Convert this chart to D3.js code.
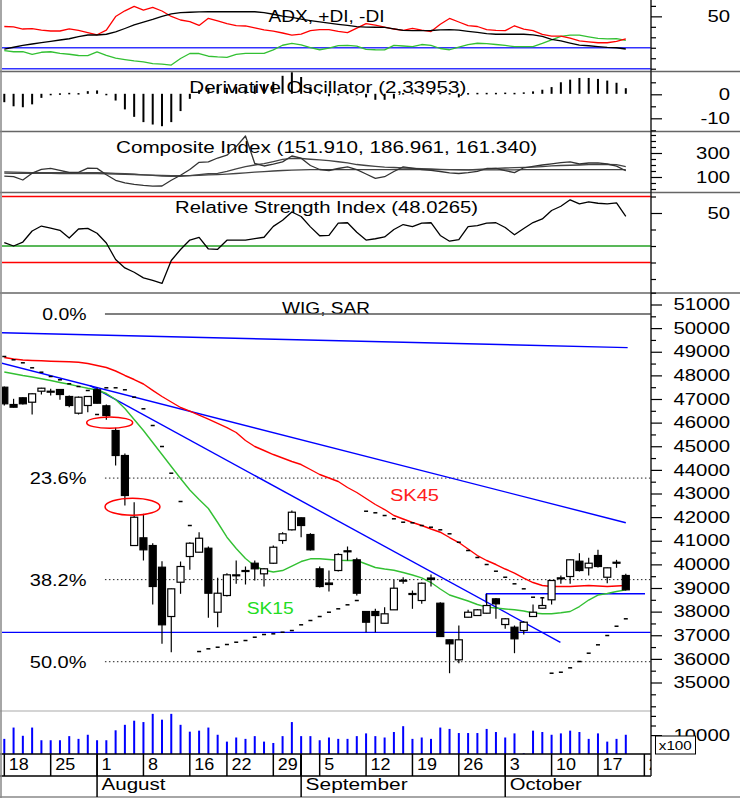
<!DOCTYPE html>
<html><head><meta charset="utf-8">
<script src="https://cdn.jsdelivr.net/npm/d3@7"></script>
<style>
body{margin:0;background:#fff}
svg{display:block}
text{font-family:"Liberation Sans",Arial,sans-serif}
</style>
</head><body>
<svg id="c" width="740" height="798"></svg>
<script>
// ---------------- DATA (WIG, 18 Jul 2011 - 20 Oct 2011) ----------------
const open = [47499,46767,47051,46864,47330,47317,47402,47106,46399,46725,
47389,46712,45666,44608,40798,41124,40798,39880,37793,39245,
40333,40515,40684,37975,38682,39541,39727,40049,39600,40049,
41010,41463,41971,41264,39812,39211,39740,40574,40193,38005,
38005,37509,38076,39317,38767,38470,39423,38356,36807,35960,
37763,37835,37933,38542,37454,37340,37200,37793,38144,38500,
39423,39486,40134,39854,40375,39456,40091,39529];
const high = [47529,47008,47076,47245,47474,47432,47415,47148,47106,47127,
47474,46767,45781,44693,42631,42140,40896,40134,38978,40121,
40938,41361,40756,39431,39626,40164,39910,40164,39846,40798,
41361,42280,41984,41319,39910,39740,40473,40756,40278,38026,
38119,38187,39346,39456,38894,39230,39571,38398,36819,37412,
38076,38110,38754,38576,37730,37412,37602,38301,38610,39338,
39529,40206,40473,40278,40616,39867,40193,39600];
const low = [46725,46640,46767,46344,47190,47148,46966,46653,46344,46441,
46809,46119,44185,42492,40798,40164,38301,36637,36282,38754,
39770,40502,37738,37340,38640,39177,39148,39317,39063,40015,
40870,41433,41150,40587,39020,38851,39698,40164,38682,37128,
37128,37496,38068,39177,38119,38330,39063,36925,35393,35816,
37750,37814,37920,37696,37272,36240,37031,37772,38132,38301,
39177,39177,39698,39529,39867,39203,39854,38894];
const close = [46797,46653,46797,47220,47457,47330,47190,46725,47076,47106,
46822,46301,44608,42915,41996,40616,39063,37442,38965,39910,
40896,41107,38779,38779,39558,39558,39740,39812,39812,40726,
41294,42208,41645,40616,39063,39148,40417,40544,38779,37552,
37835,37907,38991,39330,38746,39203,39359,36946,36637,36807,
37975,38076,38259,38330,37696,36849,37552,37975,38259,39317,
39431,40193,39740,40049,39910,39854,40078,38923];
const sar = [48799,48659,48532,48320,48134,47952,47813,47643,47529,47360,
46344,47474,47474,47389,47076,46585,45878,44989,43859,42661,
41645,36311,36426,36493,36608,36705,36777,36917,37031,37060,
37128,37200,37442,37624,37793,37975,38119,38288,38470,42250,
42183,42068,41929,41785,41760,41645,41573,41463,41294,40938,
40587,40291,39994,39711,39456,39177,38965,38610,38585,35393,
35435,35621,35888,36240,36595,36989,37382,37696];
const sk15 = [48143,48071,47995,47931,47855,47783,47698,47622,47537,47453,
47381,47233,46979,46598,46132,45666,45158,44650,44143,43635,
43148,42746,42365,41772,41150,40671,40248,39931,39761,39677,
39740,39931,40121,40235,40235,40206,40176,40164,40164,40015,
39867,39804,39753,39656,39550,39431,39232,38957,38703,38576,
38449,38301,38191,38153,38111,38077,38026,37941,37907,37911,
37950,38005,38216,38491,38703,38767,38851,38923];
const sk45 = [48757,48693,48651,48630,48617,48600,48587,48574,48558,48503,
48418,48333,48185,47995,47825,47635,47368,47106,46873,46640,
46488,46318,46145,45967,45793,45582,45243,44989,44820,44650,
44502,44354,44227,44016,43804,43656,43508,43254,43042,42788,
42534,42322,42068,41920,41772,41645,41497,41361,41137,40925,
40650,40375,40164,39994,39804,39634,39414,39232,39105,39063,
39063,39063,39084,39105,39084,39063,39084,39105];
const volume = [8036,13929,9643,13929,7321,7321,7321,9464,8036,10179,
7321,7321,12500,15357,17500,16786,21071,18036,21071,15357,
11786,12321,13929,10179,6607,8750,8036,9464,6607,5893,
9464,16786,9464,9464,7321,8750,8036,8036,9464,10893,
9464,8750,11607,14643,8036,8750,8036,13929,13214,11071,
11071,11071,13214,11607,8750,10893,536,12321,11607,10179,
10893,12321,11607,8036,10893,6607,8036,10179];
const adx = [18.8,20.5,22.3,23.6,24.9,26.2,27.4,28.6,30.7,32.2,
32.2,32.9,35.1,38.4,41.9,44.6,47,49.9,52.3,53.5,
53.9,54.2,54.4,54.4,54.4,54.4,54.4,54.4,53.5,52,
50.3,49,47.3,46,44.8,43.6,42.4,41.3,40.1,39.8,
39.6,39.5,38.1,36.7,36.3,36.3,36.5,37,37.4,36.8,
35.7,34.6,33.5,32.9,32.9,32.9,32.9,32.4,30.8,28.1,
26.5,24.5,22.6,21.9,21.1,20.4,20,18.8];
const plusDI = [17.3,16.2,16.2,13.7,15.7,16.2,14.7,13.8,12.6,12.4,
16.1,12.8,10.2,8.7,7.4,6.6,4.8,4.3,3.5,9.7,
14.5,14.5,11.9,11.2,10.9,13.6,14.7,14.7,14.7,18,
22.4,24.1,22.8,20.2,18.1,19.6,22.1,22.2,21.5,18.5,
18.1,17.9,22.2,21.7,21.1,23.1,22.3,19.3,18.1,20.7,
23,24.3,24,23.1,22.2,21.1,21,21,24.1,27.6,
30.8,32.1,32,30.4,28.9,28.4,28.8,27.1];
const minusDI = [40.3,39.9,37.9,38.3,36.9,36,36,38,36.6,34.4,
32.4,36.8,49.8,55.3,59.6,56,58.5,55.1,49.9,46.5,
45,41.3,48.1,45.6,43,41.1,40.8,39,37.1,35.8,
34.1,32,33,36.3,37.4,37.4,35.7,34.4,38.8,43.1,
41.7,39.8,37.9,36.7,38.6,36.9,35.5,42.5,48,44.6,
41.2,40.3,37.3,36.6,36.3,41,37.9,36.3,32.7,31.2,
31.2,29.1,26.6,25.7,24.8,24.8,26,28.6];
const derivOsc = [-3.5,-5.2,-5.6,-4.4,-1.7,-0.3,0.2,0.4,0.3,1.1,
1.4,-0.2,-2.8,-6.5,-9.6,-11.8,-12.8,-13.5,-11.8,-7.2,
-2.1,1.5,2.5,3.5,2.5,3,3,3.5,4,5,
7.5,9,7,3,0.5,-1,-0.5,0.5,-0.5,-1.5,
-2.5,-2.5,-2,0.3,0.4,0.4,0.3,0.4,0.3,-1.5,
0.3,0.4,0.4,0.4,0.5,0.4,0.6,1.0,1.7,2.8,
4.8,5.9,6.6,6.6,6.2,5.5,4.6,2.34];
const composite = [106.7,102.5,75,131.7,163.3,171.7,155.8,137.5,139.2,174.2,
171.7,118.3,72.5,51.7,39.2,30,23.3,25,72.5,114.2,
162.5,222.5,225.8,258.3,281.7,353.3,441.7,212.5,191.7,207.5,
225.8,275,256.7,195.8,162.5,154.2,170.8,184.2,161.7,125,
89.2,102.5,145.8,184.2,173.3,162.5,155.8,145.8,135,129.2,
136.7,146.7,170.8,172.5,152.5,136.7,176.7,189.2,200,210,
219.2,226.7,208.3,216.7,217.5,208.3,190,151.9];
const compFast = [142,140,138,137,136,136,136,135,135,136,
137,134,131,127,123,118,113,108,105,106,
112,120,127,131,146,167,187,200,212,229,
246,256,254,248,242,237,227,217,204,196,
189,183,179,175,172,169,167,164,162,161,
160,163,167,172,175,178,181,183,187,192,
196,198,200,203,204,206,203,187];
const compSlow = [132,131,131,130,130,130,129,129,129,128,
128,127,125,123,121,118,116,114,112,111,
112,114,117,120,124,129,135,140,145,150,
154,158,160,161,161,161,162,162,162,162,
162,162,162,162,161,161,161,161,161,160,
160,160,160,160,160,160,161,161,161,161,
161,161,161,161,161,161,161,161];
const rsi = [32.1,30,32.4,39.1,42.1,40.9,39.5,34.8,40.3,40.7,
37.7,31.8,21.8,16.7,14.1,10.7,9.1,7.3,21.2,27.9,
33.6,35.2,28.2,28,33.5,33.6,33.6,34.5,35.3,41.9,
45.6,50.6,47.9,41.6,36.2,36.5,43.9,44.1,38.3,33.6,
34.4,35.5,40,43,41.8,43.9,44.1,36.4,32.9,33.9,
41.8,42.3,43.9,44.1,41.2,36.8,40.6,44.2,46.4,51.5,
54.1,58,55.5,56.7,55.9,55.5,56.1,48.0265];
const rsiLevels = [60, 30, 20];
const adxLevels = [20, 0];
// Fibonacci retracement
const fibHigh = 50600, fibLow = 21160;
const fibRatios = [0, 0.236, 0.382, 0.5];
const fibLabels = ["0.0%", "23.6%", "38.2%", "50.0%"];
// trend lines [index, price]
const trendLines = [[[-0.5,49806],[67.2,49176]], [[-0.5,48536],[67.0,41764]], [[9.25,47563],[59.95,36701]]];
const supportLines = [[[-1,37120],[69.7,37120]], [[51.93,38758],[69.07,38758]]];
const ellipses = [{i:11.36,p:46000,di:2.48,dp:240},{i:13.82,p:42437,di:2.96,dp:360}];
// date axis
const weekTickIdx = [0,5,10,15,20,24,29,34,39,44,49,54,59,64,69];
const weekTickLabels = ["18","25","1","8","16","22","29","5","12","19","26","3","10","17","24"];
const monthIdx = [10,32,54];
const monthLabels = ["August","September","October"];

// ---------------- DRAW ----------------
const svg = d3.select('#c');
const AX = 651, N = close.length;
const BLUE = '#0000ff', RED = '#ff0000', GREEN = '#33c033';
const x = d3.scaleLinear().domain([0, N-1]).range([4.3, 625.8]);

const yAdx = d3.scaleLinear().domain([0,50]).range([68.7,16.35]);
const yDo = d3.scaleLinear().domain([0,-10]).range([94.3,118.3]);
const yCi = d3.scaleLinear().domain([100,300]).range([177,153]);
const yRsi = d3.scaleLinear().domain([50,60]).range([213,196.5]);
const yP = d3.scaleLinear().domain([35000,51000]).range([682.5,304.5]);
const yV = d3.scaleLinear().domain([0,10000]).range([754.3,735.1]);

const defs = svg.append('defs');
function clip(id,y0,y1){defs.append('clipPath').attr('id',id).append('rect').attr('x',2).attr('y',y0).attr('width',AX-2).attr('height',y1-y0);}
clip('cA',0,71.5); clip('cD',71.5,131.5); clip('cC',131.5,192.5); clip('cR',192.5,293); clip('cM',293,711); clip('cV',711,754);
svg.append('rect').attr('width',740).attr('height',798).attr('fill','#fff');

function txt(g,s,x0,y0,w,anchor,size,color){
  const t=g.append('text').attr('x',x0).attr('y',y0).attr('text-anchor',anchor||'start')
    .attr('font-size',size||16).attr('fill',color||'#000').text(s);
  if(w) t.attr('textLength',w).attr('lengthAdjust','spacingAndGlyphs');
  return t;
}
function path(g,data,ys,color,w){
  g.append('path').datum(data).attr('fill','none').attr('stroke',color).attr('stroke-width',w||1.3)
   .attr('stroke-linejoin','round').attr('d',d3.line().x((d,i)=>x(i)).y(d=>ys(d)));
}
function seg(g,pts,ys,color,w){
  g.append('path').datum(pts).attr('fill','none').attr('stroke',color).attr('stroke-width',w||1.3)
   .attr('d',d3.line().x(d=>x(d[0])).y(d=>ys(d[1])));
}

// ---- ADX panel
const gA = svg.append('g').attr('clip-path','url(#cA)');
txt(gA,'ADX, +DI, -DI',268.5,21.7,116);
adxLevels.forEach(v=>gA.append('line').attr('x1',2).attr('x2',AX).attr('y1',yAdx(v)).attr('y2',yAdx(v)).attr('stroke','#3333ff').attr('stroke-width',1.6));
path(gA,plusDI,yAdx,GREEN,1.3);
path(gA,minusDI,yAdx,RED,1.3);
path(gA,adx,yAdx,'#000',1.3);

// ---- Derivative oscillator
const gD = svg.append('g').attr('clip-path','url(#cD)');
txt(gD,'Derivative Oscillator (2,33953)',189.3,92.7,277);
gD.selectAll('rect.b').data(derivOsc).join('rect').attr('x',(d,i)=>x(i)-1).attr('width',2)
  .attr('y',d=>Math.min(yDo(0),yDo(d))-0.5).attr('height',d=>Math.max(1.5,Math.abs(yDo(d)-yDo(0))))
  .attr('fill','#000');

// ---- Composite index
const gC = svg.append('g').attr('clip-path','url(#cC)');
txt(gC,'Composite Index (151.910, 186.961, 161.340)',116,153.3,421);
path(gC,compSlow,yCi,'#444',1.3);
path(gC,compFast,yCi,'#444',1.3);
path(gC,composite,yCi,'#333',1.3);

// ---- RSI
const gR = svg.append('g').attr('clip-path','url(#cR)');
txt(gR,'Relative Strength Index (48.0265)',175,213.3,303);
rsiLevels.forEach((v,k)=>gR.append('line').attr('x1',2).attr('x2',AX).attr('y1',yRsi(v)).attr('y2',yRsi(v))
  .attr('stroke',k===1?'#22a022':RED).attr('stroke-width',1.5));
path(gR,rsi,yRsi,'#000',1.3);

// ---- Main price panel
const gM = svg.append('g').attr('clip-path','url(#cM)');
txt(gM,'WIG, SAR',282,314,88);
fibRatios.forEach((r,k)=>{
  const p = fibHigh - r*(fibHigh-fibLow);
  const ln = gM.append('line').attr('x1',x(10.85)).attr('x2',AX).attr('y1',yP(p)).attr('y2',yP(p));
  if(k===0) ln.attr('stroke','#555').attr('stroke-width',1.6);
  else ln.attr('stroke','#222').attr('stroke-width',1).attr('stroke-dasharray','1.5,2.5');
  txt(gM,fibLabels[k],86.5,yP(p)+6,k===0?44.3:56.7,'end');
});
supportLines.forEach(s=>seg(gM,s,yP,BLUE,1.4));
gM.append('line').attr('x1',x(51.93)).attr('x2',x(51.93)).attr('y1',yP(38758)).attr('y2',yP(38380)).attr('stroke',BLUE).attr('stroke-width',1.4);
trendLines.forEach(t=>seg(gM,t,yP,BLUE,1.4));
path(gM,sk45,yP,RED,1.4);
path(gM,sk15,yP,GREEN,1.4);
txt(gM,'SK45',390,500.7,49,'start',16,'#ff2020');
txt(gM,'SK15',246.7,614,47,'start',16,'#22dd22');
// SAR
gM.selectAll('rect.sar').data(sar).join('rect').attr('x',(d,i)=>x(i)-2).attr('width',4)
  .attr('y',d=>yP(d)-0.75).attr('height',1.5).attr('fill','#000');
// candles
const cand = gM.selectAll('g.cd').data(close.map((c,i)=>({i,o:open[i],h:high[i],l:low[i],c}))).join('g');
cand.append('line').attr('x1',d=>x(d.i)).attr('x2',d=>x(d.i)).attr('y1',d=>yP(d.h)).attr('y2',d=>yP(d.l))
  .attr('stroke','#000').attr('stroke-width',1.2);
cand.append('rect').attr('x',d=>x(d.i)-3.5).attr('width',7)
  .attr('y',d=>yP(Math.max(d.o,d.c))).attr('height',d=>Math.max(1,Math.abs(yP(d.o)-yP(d.c))))
  .attr('fill',d=>d.c>=d.o?'#fff':'#000').attr('stroke','#000').attr('stroke-width',1.2);
ellipses.forEach(e=>gM.append('ellipse').attr('cx',x(e.i)).attr('cy',yP(e.p))
  .attr('rx',x(e.i+e.di)-x(e.i)).attr('ry',yP(e.p-e.dp)-yP(e.p)).attr('fill','none').attr('stroke',RED).attr('stroke-width',1.5));

// ---- Volume
const gV = svg.append('g').attr('clip-path','url(#cV)');
gV.selectAll('rect').data(volume).join('rect').attr('x',(d,i)=>x(i)-1).attr('width',2)
  .attr('y',d=>yV(d)).attr('height',d=>yV(0)-yV(d)).attr('fill',BLUE);

// ---- Frame / separators
const fr = svg.append('g').attr('stroke','#666').attr('stroke-width',1.5);
[71.5,131.5,192.5,293].forEach(y=>fr.append('line').attr('x1',0).attr('x2',740).attr('y1',y).attr('y2',y));
fr.append('line').attr('x1',0).attr('x2',AX).attr('y1',711).attr('y2',711).attr('stroke','#aaa').attr('stroke-width',1.2);
fr.append('line').attr('x1',0).attr('x2',AX).attr('y1',754).attr('y2',754).attr('stroke','#000');
fr.append('line').attr('x1',0).attr('x2',AX).attr('y1',776).attr('y2',776).attr('stroke','#000');
fr.append('line').attr('x1',0).attr('x2',740).attr('y1',797).attr('y2',797).attr('stroke','#888');
fr.append('line').attr('x1',1).attr('x2',1).attr('y1',0).attr('y2',798).attr('stroke','#888');
fr.append('line').attr('x1',AX).attr('x2',AX).attr('y1',0).attr('y2',776).attr('stroke','#222');

// ---- Right axes
function rightAxis(scale,major,minor,fmt){
  const gn = svg.append('g').attr('transform',`translate(${AX},0)`)
    .call(d3.axisRight(scale).tickValues(minor).tickSize(5).tickFormat(''));
  const gj = svg.append('g').attr('transform',`translate(${AX},0)`)
    .call(d3.axisRight(scale).tickValues(major).tickSize(11).tickFormat(fmt));
  [gn,gj].forEach(g=>{g.select('.domain').remove();g.selectAll('line').attr('stroke','#000').attr('stroke-width',1.2);});
  gj.attr('font-size',16).attr('font-family','"Liberation Sans",Arial,sans-serif');
  gj.selectAll('text').attr('x',79).attr('text-anchor','end').attr('fill','#000')
    .each(function(){const s=this.textContent; const w=s.replace('-','').length*11.3+(s.includes('-')?7:0);
      d3.select(this).attr('textLength',w).attr('lengthAdjust','spacingAndGlyphs');});
}
rightAxis(yAdx,[50],[0,10,20,30,40,60],d=>d);
rightAxis(yDo,[0,-10],[5,-5,-15],d=>d);
rightAxis(yCi,[100,300],[0,50,150,200,250,350,400,450],d=>d);
rightAxis(yRsi,[50],[10,20,30,40,60],d=>d);
rightAxis(yP,d3.range(35000,51001,1000),d3.range(34500,51501,1000),d=>d);
rightAxis(yV,[10000],[15000,20000,25000],d=>d);
// x100 box
svg.append('rect').attr('x',655.5).attr('y',736).attr('width',40).attr('height',18).attr('fill','#fff').attr('stroke','#000');
txt(svg,'x100',658.8,750,33,'start',12.5);

// ---- Date axis
const gX = svg.append('g');
const dc = gX.append('g').attr('clip-path','url(#cX)');
defs.append('clipPath').attr('id','cX').append('rect').attr('x',0).attr('y',754).attr('width',AX).attr('height',44);
weekTickIdx.forEach((d,k)=>{
  dc.append('line').attr('x1',x(d)).attr('x2',x(d)).attr('y1',754).attr('y2',776).attr('stroke','#000').attr('stroke-width',1.5);
  txt(dc,weekTickLabels[k],x(d)+4.5,770,weekTickLabels[k].length*10);
});
monthIdx.forEach((d,k)=>{
  dc.append('line').attr('x1',x(d)).attr('x2',x(d)).attr('y1',754).attr('y2',797).attr('stroke','#000').attr('stroke-width',1.5);
  dc.append('line').attr('x1',x(32)).attr('x2',x(32)).attr('y1',754).attr('y2',776).attr('stroke','#000').attr('stroke-width',1.5);
  txt(dc,monthLabels[k],x(d)+4.5,790,[64,102,72][k]);
});
</script>
</body></html>
